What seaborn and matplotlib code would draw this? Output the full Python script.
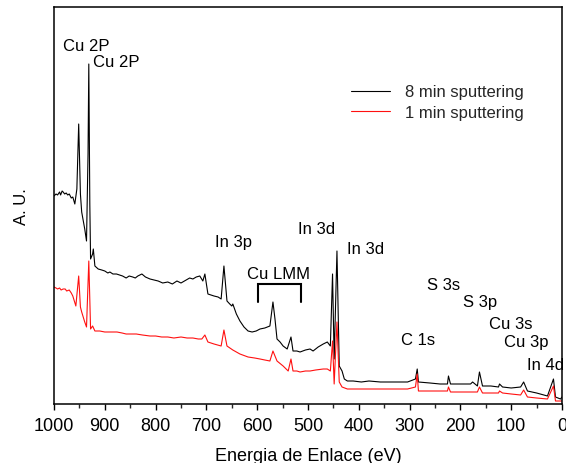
import matplotlib
matplotlib.use("Agg")
import matplotlib.pyplot as plt
from matplotlib.ticker import MultipleLocator
import seaborn as sns
import pandas as pd

# ---- data (binding energy in eV, intensity in arbitrary units) ----
energy_8min = [1000, 996, 993, 989, 987, 984, 982, 979, 976, 973, 970, 966, 963, 959, 955,
               951.4, 948, 945.5, 939.5, 936, 933, 931.5, 929.5, 928, 924, 922.6, 919.5,
               913, 906, 900, 894, 890, 884, 877, 871, 865, 858, 852, 845, 840, 835, 827,
               820, 811, 803, 795, 786, 776, 767, 758, 750, 740, 733, 726.6, 720, 713, 707,
               703, 697, 691, 685, 677, 671, 665.5, 659.5, 654, 650, 648, 641, 634, 626,
               618, 610, 602, 594.5, 585, 575, 569, 565, 561, 555, 549, 541, 533.5, 529.5,
               522, 515.6, 505, 496, 490, 480, 470, 462, 456, 451.7, 448.5, 443, 438.5,
               433, 428.5, 422.5, 411, 395, 380, 357.5, 340, 318, 304, 288.5, 285, 282.6,
               260, 240, 225.5, 223.5, 219.5, 200, 180, 176, 166.5, 162.5, 156.5, 140, 125,
               123, 117, 100, 81.5, 75.5, 68, 50, 28.6, 16.8, 12.8, 3, 0]
intensity_8min = [208, 210, 209, 212, 209, 213, 212, 210, 211, 209, 210, 206, 207, 200, 215,
                  280, 210, 192, 175, 163, 250, 340, 200, 145, 150, 155, 138,
                  135, 134, 133, 131, 132, 130, 130, 129, 128, 126, 128, 127, 126, 128, 130,
                  127, 125, 124, 123, 121, 122, 120, 123, 121, 124, 126, 125, 127, 128, 123,
                  130, 110, 109, 108, 107, 105, 138, 103, 100, 98, 100, 90, 83, 77,
                  73, 72, 73, 75, 76, 78, 102, 85, 65, 62, 58, 55, 67, 53,
                  53, 52, 54, 55, 53, 57, 60, 62, 58, 130, 45, 153, 38,
                  33, 25, 23, 23, 22, 23, 22, 22, 22, 22, 25, 35, 22,
                  21, 20, 20, 28, 20, 20, 20, 22, 18, 32, 18, 18, 17,
                  20, 17, 16, 17, 22, 13, 11, 8, 25, 7, 5, 7]

energy_1min = [1000, 996, 993, 989, 986, 982, 978, 975, 970, 966, 963, 957, 951.4, 948,
               945.5, 939.5, 936, 931.5, 928, 924, 919.5, 910, 900, 890, 876, 866, 858,
               850, 838, 826, 811, 800, 788, 776, 764, 750, 738, 726.6, 716, 709, 703, 697,
               685, 671, 665.5, 659.5, 648, 634, 618, 605, 594.5, 585, 575, 569, 561, 549,
               539, 533.5, 529.5, 522, 515.6, 505, 496, 485, 470, 462, 456, 451.7, 448.5,
               443, 438.5, 433, 422.5, 400, 380, 357.5, 330, 304, 288.5, 285, 282.6, 260,
               240, 225.5, 223.5, 219.5, 200, 180, 166.5, 162.5, 156.5, 140, 125, 123, 117,
               100, 81.5, 75.5, 68, 50, 28.6, 16.8, 12.8, 3, 0]
intensity_1min = [117, 116, 115, 116, 114, 115, 115, 113, 114, 111, 108, 98, 128, 97,
                  92, 82, 77, 143, 75, 78, 73, 73, 72, 72, 72, 71, 70,
                  70, 70, 69, 68, 68, 67, 67, 66, 67, 66, 66, 65, 65, 69, 62,
                  60, 58, 74, 58, 54, 50, 47, 46, 45, 44, 43, 53, 43, 38,
                  33, 45, 33, 33, 32, 33, 33, 34, 35, 35, 33, 63, 20,
                  82, 22, 17, 15, 15, 15, 15, 15, 15, 17, 30, 13, 13,
                  13, 13, 17, 12, 12, 12, 12, 17, 11, 11, 11, 13, 11,
                  10, 9, 14, 7, 6, 5, 18, 3, 3, 3]

series_labels = ["8 min sputtering", "1 min sputtering"]
series_colors = ["#000000", "#ff1010"]

annotation_texts = ["Cu 2P", "Cu 2P", "In 3p", "Cu LMM", "In 3d", "In 3d",
                    "S 3s", "S 3p", "Cu 3s", "C 1s", "Cu 3p", "In 4d"]
annotation_x = [982, 923, 683, 620, 519, 423, 265, 194, 143, 316, 115, 68]
annotation_y = [366, 350, 170, 138, 183, 163, 127, 110, 88, 72, 70, 47]

bracket_x = [598, 598, 513, 513]
bracket_y = [102, 120, 120, 102]

x_ticks = [1000, 900, 800, 700, 600, 500, 400, 300, 200, 100, 0]

# ---- figure ----
sns.set_theme(style="ticks")
plt.rcParams["font.family"] = ["Liberation Sans", "DejaVu Sans"]

fig = plt.figure(figsize=(5.66, 4.64), dpi=100)
ax = fig.add_axes([54 / 566, 59 / 464, 508 / 566, 397 / 464])

df8 = pd.DataFrame({"E": energy_8min, "I": intensity_8min})
df1 = pd.DataFrame({"E": energy_1min, "I": intensity_1min})
sns.lineplot(data=df8, x="E", y="I", ax=ax, color=series_colors[0], lw=0.8,
             label=series_labels[0], estimator=None, sort=False)
sns.lineplot(data=df1, x="E", y="I", ax=ax, color=series_colors[1], lw=0.8,
             label=series_labels[1], estimator=None, sort=False)

ax.plot(bracket_x, bracket_y, color="black", lw=1.5, solid_joinstyle="miter")

for t, xx, yy in zip(annotation_texts, annotation_x, annotation_y):
    ax.text(xx, yy, t, fontsize=12, ha="left", va="top", color="black")

ax.set_xlim(1000, 0)
ax.set_ylim(0, 397)
ax.set_xticks(x_ticks)
ax.set_xticklabels([str(v) for v in x_ticks])
ax.xaxis.set_minor_locator(MultipleLocator(50))
ax.set_yticks([])
ax.tick_params(axis="x", which="major", direction="out", length=4.5, width=1.0,
               labelsize=13, pad=5, colors="black")
ax.tick_params(axis="x", which="minor", direction="out", length=3, width=1.0)
for s in ax.spines.values():
    s.set_visible(True)
    s.set_color("black")
    s.set_linewidth(1.1)

ax.set_xlabel("Energia de Enlace (eV)", fontsize=13, labelpad=9, color="black")
ax.set_ylabel("A. U.", fontsize=12, labelpad=18, color="black")

leg = ax.legend(loc="upper left", bbox_to_anchor=(0.585, 0.805), frameon=False,
                fontsize=12, handlelength=2.35, handletextpad=0.9, labelspacing=0.35,
                borderaxespad=0, borderpad=0)
for line in leg.get_lines():
    line.set_linewidth(0.8)

fig.savefig("out.png", dpi=100)
